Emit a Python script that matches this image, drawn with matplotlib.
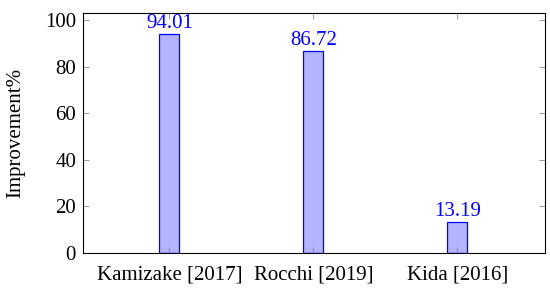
import matplotlib.pyplot as plt

categories = ['Kamizake [2017]', 'Rocchi [2019]', 'Kida [2016]']
improvement = [94.01, 86.72, 13.19]
labels = ['94.01', '86.72', '13.19']

plt.rcParams['font.family'] = ['Liberation Serif', 'DejaVu Serif']

fig = plt.figure(figsize=(5.5, 2.89), dpi=100)
ax = fig.add_axes([83 / 550, 36 / 289, 462 / 550, 240 / 289])

x = range(len(categories))
bars = ax.bar(x, improvement, width=0.14, color='#b3b3ff', edgecolor='#0000ff', linewidth=0.9)
for b, lab in zip(bars, labels):
    ax.annotate(lab, (b.get_x() + b.get_width() / 2, b.get_height()),
                xytext=(0, 4.5), textcoords='offset points',
                ha='center', va='baseline', color='#0000ff', fontsize=15)

ax.set_xlim(-0.6, 2.61)
ax.set_ylim(0, 103)
ax.set_xticks(list(x))
ax.set_xticklabels(categories, fontsize=15)
ax.set_yticks(range(0, 101, 20))
ax.tick_params(axis='y', labelsize=15, pad=5)
ax.tick_params(direction='in', length=4, color='#888888', top=True, right=True, width=0.6)
ax.tick_params(axis='x', pad=9)
ax.set_ylabel('Improvement%', fontsize=15, labelpad=14)
for s in ax.spines.values():
    s.set_linewidth(0.8)

fig.savefig('out.png', dpi=100)
